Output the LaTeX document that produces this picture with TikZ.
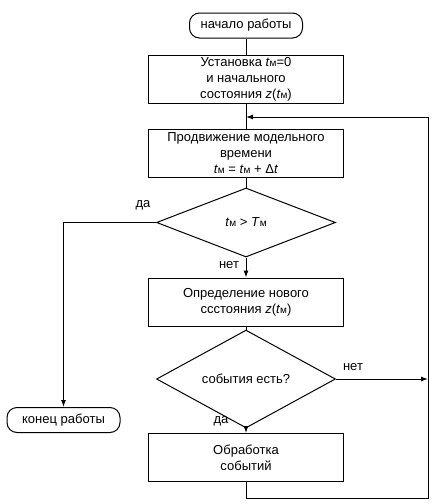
\documentclass[tikz,border=0pt]{standalone}
\usepackage{fontspec}
\setmainfont{Liberation Sans}
\usetikzlibrary{shapes.geometric,arrows.meta}
\newcommand{\tmv}{\textit{t}{\fontsize{10}{12}\selectfont м}}
\newcommand{\Tmv}{\textit{T}{\fontsize{10}{12}\selectfont м}}
\begin{document}
\begin{tikzpicture}[x=1pt,y=-1pt,
  font=\fontsize{13}{16}\selectfont,
  line width=1pt,
  proc/.style={draw, minimum width=195pt, minimum height=48pt, inner sep=0pt, align=center},
  term/.style={draw, rounded corners=10pt, minimum width=113pt, minimum height=25pt, inner sep=0pt},
  dec/.style={draw, diamond, minimum width=179pt, minimum height=69pt, inner sep=0pt},
  arr/.style={-{Latex[length=7pt,width=5pt]}},
  lbl/.style={inner sep=0pt}]
\useasboundingbox (0,0) rectangle (443,504);
\node[term] (start) at (246,25.5) {начало работы};
\node[proc] (b1) at (246,79) {Установка \tmv=0\\и начального\\состояния \textit{z}(\tmv)};
\node[proc] (b2) at (246,153.5) {Продвижение модельного\\времени\\\tmv{} = \tmv{} + Δ\textit{t}};
\node[dec] (d1) at (246,222.5) {\tmv{} > \Tmv};
\node[proc] (b3) at (246,302) {Определение нового\\ссстояния \textit{z}(\tmv)};
\node[dec] (d2) at (246,379) {события есть?};
\node[proc] (b4) at (246,457.5) {Обработка\\событий};
\node[term] (end) at (63.5,420) {конец работы};
\coordinate (rb) at (428,498);
\coordinate (rt) at (428,117);
\coordinate (j) at (246,117);
\draw (start) -- (b1);
\draw (b1) -- (b2);
\draw (b2) -- (d1);
\draw[arr] (d1) -- (b3);
\node[lbl] (n1) at (229,265) {нет};
\draw (b3) -- (d2);
\draw[arr] (d2) -- (b4);
\node[lbl] (y2) at (221,421) {да};
\draw[arr] (d1.west) -| (end.north);
\node[lbl] (y1) at (143,205) {да};
\draw[arr] (d2.east) -- (d2.east -| rt);
\node[lbl] (n2) at (353,367) {нет};
\draw[arr] (b4.south) |- (rb) -- (rt) -- (j);
\end{tikzpicture}
\end{document}
